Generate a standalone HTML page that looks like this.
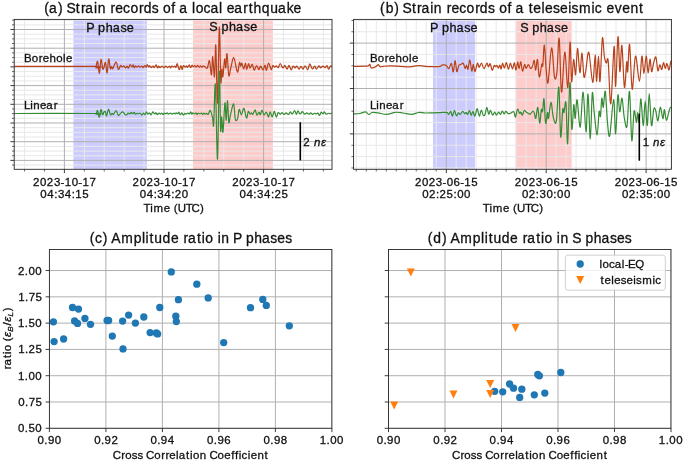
<!DOCTYPE html>
<html><head><meta charset="utf-8"><style>
html,body{margin:0;padding:0;background:#fff;width:685px;height:462px;overflow:hidden;}
svg{display:block;font-family:"Liberation Sans", sans-serif;will-change:transform;}
</style></head><body>
<svg width="685" height="462" viewBox="0 0 685 462" font-family='"Liberation Sans", sans-serif'><defs>
<clipPath id="ca"><rect x="14.2" y="19.4" width="317.8" height="149.9"/></clipPath>
<clipPath id="cb"><rect x="353.6" y="19.4" width="317.8" height="149.9"/></clipPath>
<clipPath id="cc"><rect x="49.4" y="249.5" width="282.5" height="178.8"/></clipPath>
<clipPath id="cd"><rect x="388.5" y="249.5" width="282.5" height="178.8"/></clipPath>
</defs>
<rect x="0" y="0" width="685" height="462" fill="#ffffff"/>
<g clip-path="url(#ca)">
<rect x="73.4" y="19.4" width="73.5" height="149.9" fill="#ccccff"/>
<rect x="193" y="19.4" width="79.9" height="149.9" fill="#ffcccc"/>
<line x1="14.2" y1="20.15" x2="332" y2="20.15" stroke="#e8e8e8" stroke-width="1"/>
<line x1="14.2" y1="24.82" x2="332" y2="24.82" stroke="#e8e8e8" stroke-width="1"/>
<line x1="14.2" y1="34.17" x2="332" y2="34.17" stroke="#e8e8e8" stroke-width="1"/>
<line x1="14.2" y1="38.85" x2="332" y2="38.85" stroke="#e8e8e8" stroke-width="1"/>
<line x1="14.2" y1="43.52" x2="332" y2="43.52" stroke="#e8e8e8" stroke-width="1"/>
<line x1="14.2" y1="52.88" x2="332" y2="52.88" stroke="#e8e8e8" stroke-width="1"/>
<line x1="14.2" y1="57.55" x2="332" y2="57.55" stroke="#e8e8e8" stroke-width="1"/>
<line x1="14.2" y1="62.23" x2="332" y2="62.23" stroke="#e8e8e8" stroke-width="1"/>
<line x1="14.2" y1="71.57" x2="332" y2="71.57" stroke="#e8e8e8" stroke-width="1"/>
<line x1="14.2" y1="76.25" x2="332" y2="76.25" stroke="#e8e8e8" stroke-width="1"/>
<line x1="14.2" y1="80.92" x2="332" y2="80.92" stroke="#e8e8e8" stroke-width="1"/>
<line x1="14.2" y1="90.28" x2="332" y2="90.28" stroke="#e8e8e8" stroke-width="1"/>
<line x1="14.2" y1="94.95" x2="332" y2="94.95" stroke="#e8e8e8" stroke-width="1"/>
<line x1="14.2" y1="99.62" x2="332" y2="99.62" stroke="#e8e8e8" stroke-width="1"/>
<line x1="14.2" y1="108.97" x2="332" y2="108.97" stroke="#e8e8e8" stroke-width="1"/>
<line x1="14.2" y1="113.65" x2="332" y2="113.65" stroke="#e8e8e8" stroke-width="1"/>
<line x1="14.2" y1="118.33" x2="332" y2="118.33" stroke="#e8e8e8" stroke-width="1"/>
<line x1="14.2" y1="127.67" x2="332" y2="127.67" stroke="#e8e8e8" stroke-width="1"/>
<line x1="14.2" y1="132.35" x2="332" y2="132.35" stroke="#e8e8e8" stroke-width="1"/>
<line x1="14.2" y1="137.02" x2="332" y2="137.02" stroke="#e8e8e8" stroke-width="1"/>
<line x1="14.2" y1="146.38" x2="332" y2="146.38" stroke="#e8e8e8" stroke-width="1"/>
<line x1="14.2" y1="151.05" x2="332" y2="151.05" stroke="#e8e8e8" stroke-width="1"/>
<line x1="14.2" y1="155.72" x2="332" y2="155.72" stroke="#e8e8e8" stroke-width="1"/>
<line x1="14.2" y1="165.07" x2="332" y2="165.07" stroke="#e8e8e8" stroke-width="1"/>
<line x1="24.56" y1="19.4" x2="24.56" y2="169.3" stroke="#e8e8e8" stroke-width="1"/>
<line x1="44.48" y1="19.4" x2="44.48" y2="169.3" stroke="#e8e8e8" stroke-width="1"/>
<line x1="84.32" y1="19.4" x2="84.32" y2="169.3" stroke="#e8e8e8" stroke-width="1"/>
<line x1="104.24" y1="19.4" x2="104.24" y2="169.3" stroke="#e8e8e8" stroke-width="1"/>
<line x1="124.16" y1="19.4" x2="124.16" y2="169.3" stroke="#e8e8e8" stroke-width="1"/>
<line x1="144.08" y1="19.4" x2="144.08" y2="169.3" stroke="#e8e8e8" stroke-width="1"/>
<line x1="183.92" y1="19.4" x2="183.92" y2="169.3" stroke="#e8e8e8" stroke-width="1"/>
<line x1="203.84" y1="19.4" x2="203.84" y2="169.3" stroke="#e8e8e8" stroke-width="1"/>
<line x1="223.76" y1="19.4" x2="223.76" y2="169.3" stroke="#e8e8e8" stroke-width="1"/>
<line x1="243.68" y1="19.4" x2="243.68" y2="169.3" stroke="#e8e8e8" stroke-width="1"/>
<line x1="283.52" y1="19.4" x2="283.52" y2="169.3" stroke="#e8e8e8" stroke-width="1"/>
<line x1="303.44" y1="19.4" x2="303.44" y2="169.3" stroke="#e8e8e8" stroke-width="1"/>
<line x1="323.36" y1="19.4" x2="323.36" y2="169.3" stroke="#e8e8e8" stroke-width="1"/>
<line x1="14.2" y1="29.5" x2="332" y2="29.5" stroke="#b0b0b0" stroke-width="1"/>
<line x1="14.2" y1="48.2" x2="332" y2="48.2" stroke="#b0b0b0" stroke-width="1"/>
<line x1="14.2" y1="66.9" x2="332" y2="66.9" stroke="#b0b0b0" stroke-width="1"/>
<line x1="14.2" y1="85.6" x2="332" y2="85.6" stroke="#b0b0b0" stroke-width="1"/>
<line x1="14.2" y1="104.3" x2="332" y2="104.3" stroke="#b0b0b0" stroke-width="1"/>
<line x1="14.2" y1="123" x2="332" y2="123" stroke="#b0b0b0" stroke-width="1"/>
<line x1="14.2" y1="141.7" x2="332" y2="141.7" stroke="#b0b0b0" stroke-width="1"/>
<line x1="14.2" y1="160.4" x2="332" y2="160.4" stroke="#b0b0b0" stroke-width="1"/>
<line x1="64.4" y1="19.4" x2="64.4" y2="169.3" stroke="#b0b0b0" stroke-width="1"/>
<line x1="164" y1="19.4" x2="164" y2="169.3" stroke="#b0b0b0" stroke-width="1"/>
<line x1="263.6" y1="19.4" x2="263.6" y2="169.3" stroke="#b0b0b0" stroke-width="1"/>
<path fill="none" stroke="#b9411a" stroke-width="1.2" stroke-linejoin="round" d="M14.2,66.4C27.6,66.4 81,66.2 94.6,66.4C108.2,66.6 95.3,68.43 95.8,67.6C96.3,66.77 97,60.45 97.6,61.4C98.2,62.35 98.83,73.62 99.4,73.3C99.97,72.98 100.45,60.28 101,59.5C101.55,58.72 102.23,67.2 102.7,68.6C103.17,70 103.33,68.93 103.8,67.9C104.27,66.87 104.95,61.57 105.5,62.4C106.05,63.23 106.57,73.47 107.1,72.9C107.63,72.33 108.17,59.72 108.7,59C109.23,58.28 109.85,67.37 110.3,68.6C110.75,69.83 111.02,66.37 111.4,66.4C111.78,66.43 112.15,68.95 112.6,68.8C113.05,68.65 113.48,66.62 114.1,65.5C114.72,64.38 115.58,61.47 116.3,62.1C117.02,62.73 117.68,68.73 118.4,69.3C119.12,69.87 120,65.88 120.6,65.5C121.2,65.12 121.45,66.95 122,67C122.55,67.06 123.31,65.67 123.88,65.83C124.46,66 124.93,67.92 125.46,67.97C125.99,68.02 126.59,66.08 127.08,66.12C127.57,66.15 127.9,68.45 128.4,68.18C128.9,67.91 129.48,64.69 130.07,64.5C130.67,64.31 131.47,66.97 131.99,67.02C132.51,67.08 132.8,64.73 133.18,64.85C133.57,64.97 133.92,67.56 134.29,67.74C134.65,67.91 134.88,66.01 135.37,65.9C135.85,65.78 136.62,67.03 137.17,67.03C137.72,67.03 138.21,65.85 138.67,65.89C139.14,65.93 139.46,67.24 139.97,67.26C140.49,67.27 141.27,65.93 141.78,65.98C142.29,66.04 142.54,67.64 143.04,67.59C143.54,67.53 144.25,65.72 144.78,65.65C145.3,65.58 145.77,67.32 146.17,67.15C146.58,66.98 146.8,64.68 147.22,64.64C147.64,64.59 148.27,66.68 148.7,66.86C149.13,67.04 149.41,65.55 149.81,65.7C150.21,65.85 150.57,67.67 151.11,67.74C151.64,67.81 152.49,66.15 153.02,66.12C153.56,66.09 153.79,67.74 154.3,67.54C154.8,67.34 155.53,64.84 156.06,64.92C156.6,64.99 157.08,67.79 157.52,67.99C157.95,68.19 158.25,66.18 158.68,66.12C159.12,66.07 159.55,67.69 160.11,67.67C160.67,67.65 161.41,66 162.04,66.01C162.66,66.02 163.27,67.72 163.88,67.74C164.49,67.76 165.07,66.16 165.7,66.14C166.33,66.12 167.03,67.65 167.64,67.63C168.26,67.61 168.91,65.99 169.39,66.03C169.86,66.06 170.11,67.84 170.5,67.84C170.9,67.83 171.32,66.14 171.77,65.98C172.23,65.82 172.73,66.86 173.23,66.88C173.73,66.9 174.34,66.03 174.8,66.1C175.26,66.17 175.57,67.69 175.99,67.29C176.4,66.9 176.73,63.33 177.26,63.73C177.79,64.14 178.53,69.42 179.16,69.72C179.78,70.01 180.5,65.51 181,65.52C181.5,65.52 181.74,69.7 182.14,69.73C182.55,69.76 182.9,66.14 183.41,65.71C183.92,65.28 184.7,67.09 185.2,67.13C185.7,67.18 186,65.92 186.41,65.96C186.82,66.01 187.19,67.6 187.66,67.4C188.14,67.2 188.79,64.73 189.27,64.76C189.74,64.8 190.05,67.55 190.5,67.62C190.95,67.7 191.48,65.39 191.95,65.23C192.42,65.07 192.87,66.61 193.33,66.68C193.79,66.74 194.21,65.57 194.71,65.61C195.21,65.66 195.88,67.01 196.35,66.95C196.82,66.9 197.02,65.27 197.53,65.31C198.03,65.35 198.91,67.1 199.4,67.19C199.88,67.29 200,65.89 200.46,65.9C200.93,65.9 201.7,67.25 202.17,67.23C202.64,67.2 202.79,65.76 203.29,65.73C203.79,65.7 204.46,66.69 205.15,67.05C205.83,67.41 206.67,68.96 207.4,67.9C208.13,66.84 208.82,59.52 209.5,60.7C210.18,61.88 210.97,75.7 211.5,75C212.03,74.3 212.2,56.2 212.7,56.5C213.2,56.8 213.98,78.68 214.5,76.8C215.02,74.92 215.3,40.83 215.8,45.2C216.3,49.57 216.92,106 217.5,103C218.08,100 218.75,30.78 219.3,27.2C219.85,23.62 220.37,74.53 220.8,81.5C221.23,88.47 221.55,69.78 221.9,69C222.25,68.22 222.45,78.48 222.9,76.8C223.35,75.12 224.12,60.38 224.6,58.9C225.08,57.42 225.4,68.78 225.8,67.9C226.2,67.02 226.5,52.32 227,53.6C227.5,54.88 228.2,73.03 228.8,75.6C229.4,78.17 229.77,71.98 230.6,69C231.43,66.02 232.67,57.2 233.8,57.7C234.93,58.2 236.45,71.2 237.4,72C238.35,72.8 238.95,63.48 239.5,62.5C240.05,61.52 240.3,66 240.7,66.1C241.1,66.2 241.4,62.62 241.9,63.1C242.4,63.58 243.1,69 243.7,69C244.3,69 245,63 245.5,63.1C246,63.2 246.2,69.5 246.7,69.6C247.2,69.7 247.95,63.96 248.5,63.7C249.05,63.44 249.37,67.94 250,68.04C250.63,68.14 251.6,63.93 252.31,64.3C253.02,64.67 253.54,70.07 254.25,70.27C254.97,70.48 255.82,65.62 256.59,65.52C257.37,65.42 258.23,69.58 258.9,69.69C259.56,69.8 259.87,66.13 260.57,66.19C261.27,66.24 262.34,70.18 263.07,70.01C263.8,69.84 264.4,65.13 264.97,65.18C265.53,65.23 265.86,70.67 266.46,70.31C267.06,69.95 267.78,63.14 268.57,63.01C269.37,62.89 270.52,69.15 271.23,69.56C271.95,69.98 272.32,65.89 272.87,65.49C273.43,65.09 273.99,67.14 274.55,67.19C275.11,67.23 275.62,65.69 276.24,65.78C276.85,65.87 277.57,68.09 278.23,67.71C278.89,67.33 279.41,63.46 280.19,63.49C280.96,63.53 282.11,67.6 282.88,67.93C283.64,68.25 284.09,65.24 284.8,65.45C285.5,65.66 286.41,69.2 287.11,69.18C287.82,69.16 288.37,65.19 289.04,65.32C289.71,65.44 290.46,69.82 291.14,69.94C291.83,70.06 292.48,66.36 293.15,66.04C293.82,65.72 294.56,68 295.16,68.01C295.76,68.02 296.1,65.91 296.76,66.1C297.42,66.28 298.4,69.12 299.11,69.15C299.82,69.17 300.35,66.26 301.01,66.25C301.67,66.24 302.37,69.17 303.06,69.09C303.75,69.01 304.34,65.67 305.13,65.78C305.92,65.9 307.04,70.12 307.81,69.8C308.57,69.48 308.98,64.01 309.73,63.86C310.49,63.71 311.51,68.54 312.35,68.91C313.2,69.29 314.14,66.04 314.8,66.1C315.45,66.15 315.58,69.29 316.28,69.25C316.97,69.21 318.28,66.09 318.99,65.85C319.69,65.62 319.82,67.77 320.49,67.82C321.16,67.87 322.23,66.18 323,66.15C323.78,66.12 324.48,67.72 325.14,67.62C325.79,67.52 326.36,65.27 326.94,65.54C327.52,65.81 328.03,69.19 328.61,69.25C329.2,69.32 329.74,66.27 330.43,65.93C331.13,65.58 332.39,66.98 332.78,67.19"/>
<path fill="none" stroke="#358c35" stroke-width="1.2" stroke-linejoin="round" d="M14.2,113.5C27.62,113.5 81.07,113.35 94.7,113.5C108.33,113.65 95.53,114.9 96,114.4C96.47,113.9 96.95,110.03 97.5,110.5C98.05,110.97 98.73,117.37 99.3,117.2C99.87,117.03 100.33,109.92 100.9,109.5C101.47,109.08 102.2,114.25 102.7,114.7C103.2,115.15 103.47,112.7 103.9,112.2C104.33,111.7 104.85,111.08 105.3,111.7C105.75,112.32 106.08,116.32 106.6,115.9C107.12,115.48 107.77,109.4 108.4,109.2C109.03,109 109.78,114 110.4,114.7C111.02,115.4 111.57,113.45 112.1,113.4C112.63,113.35 112.93,114.88 113.6,114.4C114.27,113.92 115.32,110.33 116.1,110.5C116.88,110.67 117.57,114.92 118.3,115.4C119.03,115.88 119.75,113.98 120.5,113.4C121.25,112.82 122.08,111.77 122.8,111.9C123.52,112.03 124.18,113.69 124.8,114.2C125.42,114.71 125.96,115.16 126.5,114.99C127.04,114.82 127.52,113.34 128.07,113.18C128.61,113.01 129.25,114.11 129.77,113.99C130.3,113.87 130.76,112.5 131.23,112.46C131.69,112.41 132.06,113.76 132.56,113.74C133.07,113.71 133.81,112.24 134.27,112.31C134.73,112.37 134.85,113.96 135.32,114.13C135.79,114.29 136.59,113.35 137.1,113.29C137.61,113.22 137.88,113.77 138.4,113.76C138.92,113.75 139.65,112.98 140.24,113.21C140.84,113.44 141.45,115.16 141.97,115.14C142.49,115.12 142.9,113.2 143.38,113.1C143.85,113.01 144.28,114.76 144.81,114.56C145.35,114.37 146.09,112.01 146.58,111.95C147.08,111.9 147.3,114.05 147.78,114.22C148.26,114.39 148.9,112.86 149.45,112.97C150,113.07 150.54,115.03 151.1,114.85C151.66,114.67 152.25,112.02 152.84,111.86C153.42,111.7 154.09,113.76 154.62,113.91C155.15,114.05 155.57,112.61 156.03,112.72C156.49,112.84 156.88,114.55 157.38,114.6C157.88,114.65 158.51,113.09 159.02,113.01C159.53,112.94 160.02,114.14 160.46,114.13C160.91,114.13 161.21,112.89 161.67,112.98C162.13,113.07 162.75,114.63 163.23,114.65C163.71,114.67 164.07,113.25 164.55,113.1C165.02,112.95 165.65,113.8 166.08,113.76C166.52,113.71 166.75,112.79 167.15,112.85C167.56,112.91 167.97,114.05 168.49,114.09C169.02,114.13 169.68,113.08 170.29,113.07C170.9,113.06 171.56,114.04 172.17,114.04C172.78,114.04 173.45,113.13 173.95,113.09C174.45,113.04 174.8,113.83 175.18,113.79C175.56,113.75 175.84,112.86 176.26,112.85C176.67,112.84 177.25,113.84 177.69,113.73C178.14,113.61 178.53,112.01 178.93,112.19C179.33,112.36 179.6,114.65 180.09,114.76C180.59,114.87 181.35,112.8 181.89,112.87C182.43,112.94 182.84,115.09 183.32,115.16C183.81,115.23 184.35,113.46 184.8,113.29C185.24,113.12 185.5,114.2 185.99,114.16C186.49,114.12 187.23,113.1 187.78,113.06C188.33,113.01 188.8,114.06 189.3,113.88C189.8,113.69 190.36,111.9 190.78,111.96C191.19,112.02 191.46,114.09 191.8,114.25C192.14,114.41 192.37,113 192.84,112.93C193.3,112.86 194.07,113.87 194.59,113.85C195.11,113.82 195.54,112.65 195.96,112.78C196.38,112.9 196.73,114.53 197.09,114.6C197.45,114.68 197.66,113.36 198.13,113.22C198.6,113.08 199.36,113.8 199.9,113.77C200.44,113.73 200.93,112.87 201.38,113.02C201.83,113.16 202.16,114.67 202.59,114.66C203.01,114.65 203.53,113.06 203.93,112.98C204.33,112.91 204.53,114.15 204.99,114.21C205.44,114.26 206.14,113.28 206.68,113.3C207.21,113.32 207.58,114.78 208.2,114.3C208.82,113.82 209.67,109.78 210.4,110.4C211.13,111.02 212.05,115.65 212.6,118C213.15,120.35 213.23,130.08 213.7,124.5C214.17,118.92 214.77,78.73 215.4,84.5C216.03,90.27 216.85,161.27 217.5,159.1C218.15,156.93 218.78,76.37 219.3,71.5C219.82,66.63 220.2,122.33 220.6,129.9C221,137.47 221.3,116.53 221.7,116.9C222.1,117.27 222.47,134.43 223,132.1C223.53,129.77 224.37,104.88 224.9,102.9C225.43,100.92 225.77,120.57 226.2,120.2C226.63,119.83 227.07,100.35 227.5,100.7C227.93,101.05 228.3,119.95 228.8,122.3C229.3,124.65 229.7,117.85 230.5,114.8C231.3,111.75 232.8,103.28 233.6,104C234.4,104.72 234.65,116.58 235.3,119.1C235.95,121.62 236.85,120.72 237.5,119.1C238.15,117.48 238.55,110.12 239.2,109.4C239.85,108.68 240.62,114.98 241.4,114.8C242.18,114.62 243.05,107.77 243.9,108.3C244.75,108.83 245.77,117.47 246.5,118C247.23,118.53 247.72,112.15 248.3,111.5C248.88,110.85 249.49,113.87 250,114.1C250.51,114.32 250.89,112.8 251.36,112.85C251.83,112.89 252.19,114.84 252.82,114.36C253.46,113.87 254.5,109.79 255.17,109.92C255.84,110.04 256.23,114.72 256.86,115.09C257.5,115.47 258.39,112.26 258.97,112.19C259.56,112.12 259.85,115.02 260.36,114.66C260.87,114.31 261.43,110.03 262.04,110.07C262.66,110.11 263.3,114.54 264.04,114.9C264.77,115.25 265.72,111.84 266.46,112.2C267.21,112.56 267.87,117.13 268.49,117.08C269.11,117.03 269.55,111.91 270.18,111.88C270.8,111.85 271.56,117.01 272.25,116.9C272.94,116.78 273.67,111.17 274.34,111.19C275.01,111.21 275.64,116.81 276.28,117.04C276.92,117.26 277.52,113.02 278.18,112.56C278.85,112.11 279.63,114.28 280.27,114.31C280.91,114.33 281.4,112.68 282.02,112.71C282.65,112.73 283.35,114.42 284.03,114.47C284.72,114.51 285.37,112.97 286.13,112.97C286.89,112.97 287.89,114.65 288.6,114.46C289.31,114.28 289.77,111.95 290.39,111.88C291,111.81 291.59,114.27 292.3,114.04C293.01,113.81 293.97,110.45 294.65,110.49C295.33,110.54 295.83,114.24 296.38,114.31C296.92,114.38 297.3,110.97 297.93,110.92C298.56,110.87 299.44,113.89 300.16,114.01C300.89,114.13 301.55,111.63 302.28,111.64C303.02,111.64 303.8,113.84 304.56,114.06C305.32,114.27 306.14,112.89 306.85,112.92C307.57,112.95 308.21,114.24 308.85,114.23C309.49,114.21 310.12,112.83 310.72,112.84C311.32,112.85 311.83,114.21 312.45,114.28C313.08,114.35 313.82,113.32 314.48,113.26C315.13,113.21 315.8,114 316.38,113.95C316.95,113.91 317.37,112.74 317.9,112.98C318.43,113.23 318.98,115.57 319.54,115.43C320.1,115.28 320.71,112.4 321.27,112.14C321.83,111.87 322.35,113.88 322.89,113.85C323.43,113.82 324,111.89 324.54,111.95C325.07,112.01 325.44,114 326.1,114.22C326.76,114.44 327.8,113.33 328.49,113.25C329.18,113.17 329.69,113.79 330.25,113.75C330.8,113.71 331.18,112.97 331.81,113.02C332.43,113.07 333.63,113.87 333.99,114.04"/>
</g>
<line x1="300.3" y1="122.2" x2="300.3" y2="160.4" stroke="#000000" stroke-width="1.6"/>
<text x="86.31 94.1 98.12 105.67 112.69 120.38 126.79" y="32.3" font-size="12.62" fill="#111111" stroke="#111111" stroke-width="0.3" xml:space="preserve">P phase</text>
<text x="209.37 217.48 221.51 229.05 236.07 243.77 250.17" y="31.4" font-size="12.62" fill="#111111" stroke="#111111" stroke-width="0.3" xml:space="preserve">S phase</text>
<text x="24.02 31.73 38.78 42.64 49.42 56.19 62.94 65.9" y="61.8" font-size="11.47" fill="#111111" stroke="#111111" stroke-width="0.3" xml:space="preserve">Borehole</text>
<text x="23.9 30.13 33.19 39.98 46.23 53.69" y="108.7" font-size="11.47" fill="#111111" stroke="#111111" stroke-width="0.3" xml:space="preserve">Linear</text>
<text x="303.33" y="146" font-size="11.47" fill="#111111" stroke="#111111" stroke-width="0.3" xml:space="preserve">2</text>
<text x="313.96 320.89" y="146" font-size="11.47" fill="#111111" stroke="#111111" stroke-width="0.3" font-style="italic" xml:space="preserve">nε</text>
<rect x="14.2" y="19.4" width="317.8" height="149.9" fill="none" stroke="#262626" stroke-width="0.9"/>
<line x1="10.4" y1="29.5" x2="14.2" y2="29.5" stroke="#262626" stroke-width="0.9"/>
<line x1="10.4" y1="48.2" x2="14.2" y2="48.2" stroke="#262626" stroke-width="0.9"/>
<line x1="10.4" y1="66.9" x2="14.2" y2="66.9" stroke="#262626" stroke-width="0.9"/>
<line x1="10.4" y1="85.6" x2="14.2" y2="85.6" stroke="#262626" stroke-width="0.9"/>
<line x1="10.4" y1="104.3" x2="14.2" y2="104.3" stroke="#262626" stroke-width="0.9"/>
<line x1="10.4" y1="123" x2="14.2" y2="123" stroke="#262626" stroke-width="0.9"/>
<line x1="10.4" y1="141.7" x2="14.2" y2="141.7" stroke="#262626" stroke-width="0.9"/>
<line x1="10.4" y1="160.4" x2="14.2" y2="160.4" stroke="#262626" stroke-width="0.9"/>
<line x1="12" y1="20.15" x2="14.2" y2="20.15" stroke="#262626" stroke-width="0.7"/>
<line x1="12" y1="24.82" x2="14.2" y2="24.82" stroke="#262626" stroke-width="0.7"/>
<line x1="12" y1="34.17" x2="14.2" y2="34.17" stroke="#262626" stroke-width="0.7"/>
<line x1="12" y1="38.85" x2="14.2" y2="38.85" stroke="#262626" stroke-width="0.7"/>
<line x1="12" y1="43.52" x2="14.2" y2="43.52" stroke="#262626" stroke-width="0.7"/>
<line x1="12" y1="52.88" x2="14.2" y2="52.88" stroke="#262626" stroke-width="0.7"/>
<line x1="12" y1="57.55" x2="14.2" y2="57.55" stroke="#262626" stroke-width="0.7"/>
<line x1="12" y1="62.23" x2="14.2" y2="62.23" stroke="#262626" stroke-width="0.7"/>
<line x1="12" y1="71.57" x2="14.2" y2="71.57" stroke="#262626" stroke-width="0.7"/>
<line x1="12" y1="76.25" x2="14.2" y2="76.25" stroke="#262626" stroke-width="0.7"/>
<line x1="12" y1="80.92" x2="14.2" y2="80.92" stroke="#262626" stroke-width="0.7"/>
<line x1="12" y1="90.28" x2="14.2" y2="90.28" stroke="#262626" stroke-width="0.7"/>
<line x1="12" y1="94.95" x2="14.2" y2="94.95" stroke="#262626" stroke-width="0.7"/>
<line x1="12" y1="99.62" x2="14.2" y2="99.62" stroke="#262626" stroke-width="0.7"/>
<line x1="12" y1="108.97" x2="14.2" y2="108.97" stroke="#262626" stroke-width="0.7"/>
<line x1="12" y1="113.65" x2="14.2" y2="113.65" stroke="#262626" stroke-width="0.7"/>
<line x1="12" y1="118.33" x2="14.2" y2="118.33" stroke="#262626" stroke-width="0.7"/>
<line x1="12" y1="127.67" x2="14.2" y2="127.67" stroke="#262626" stroke-width="0.7"/>
<line x1="12" y1="132.35" x2="14.2" y2="132.35" stroke="#262626" stroke-width="0.7"/>
<line x1="12" y1="137.02" x2="14.2" y2="137.02" stroke="#262626" stroke-width="0.7"/>
<line x1="12" y1="146.38" x2="14.2" y2="146.38" stroke="#262626" stroke-width="0.7"/>
<line x1="12" y1="151.05" x2="14.2" y2="151.05" stroke="#262626" stroke-width="0.7"/>
<line x1="12" y1="155.72" x2="14.2" y2="155.72" stroke="#262626" stroke-width="0.7"/>
<line x1="12" y1="165.07" x2="14.2" y2="165.07" stroke="#262626" stroke-width="0.7"/>
<line x1="64.4" y1="169.3" x2="64.4" y2="173.1" stroke="#262626" stroke-width="0.9"/>
<line x1="164" y1="169.3" x2="164" y2="173.1" stroke="#262626" stroke-width="0.9"/>
<line x1="263.6" y1="169.3" x2="263.6" y2="173.1" stroke="#262626" stroke-width="0.9"/>
<line x1="24.56" y1="169.3" x2="24.56" y2="171.5" stroke="#262626" stroke-width="0.7"/>
<line x1="44.48" y1="169.3" x2="44.48" y2="171.5" stroke="#262626" stroke-width="0.7"/>
<line x1="84.32" y1="169.3" x2="84.32" y2="171.5" stroke="#262626" stroke-width="0.7"/>
<line x1="104.24" y1="169.3" x2="104.24" y2="171.5" stroke="#262626" stroke-width="0.7"/>
<line x1="124.16" y1="169.3" x2="124.16" y2="171.5" stroke="#262626" stroke-width="0.7"/>
<line x1="144.08" y1="169.3" x2="144.08" y2="171.5" stroke="#262626" stroke-width="0.7"/>
<line x1="183.92" y1="169.3" x2="183.92" y2="171.5" stroke="#262626" stroke-width="0.7"/>
<line x1="203.84" y1="169.3" x2="203.84" y2="171.5" stroke="#262626" stroke-width="0.7"/>
<line x1="223.76" y1="169.3" x2="223.76" y2="171.5" stroke="#262626" stroke-width="0.7"/>
<line x1="243.68" y1="169.3" x2="243.68" y2="171.5" stroke="#262626" stroke-width="0.7"/>
<line x1="283.52" y1="169.3" x2="283.52" y2="171.5" stroke="#262626" stroke-width="0.7"/>
<line x1="303.44" y1="169.3" x2="303.44" y2="171.5" stroke="#262626" stroke-width="0.7"/>
<line x1="323.36" y1="169.3" x2="323.36" y2="171.5" stroke="#262626" stroke-width="0.7"/>
<text x="32.99 40.05 46.83 53.9 60.59 64.67 71.65 78.36 82.44 89.39" y="185.8" font-size="11.47" fill="#111111" stroke="#111111" stroke-width="0.3" xml:space="preserve">2023-10-17</text>
<text x="40.36 47.28 54.17 57.88 64.78 71.68 75.31 82.24" y="197.9" font-size="11.47" fill="#111111" stroke="#111111" stroke-width="0.3" xml:space="preserve">04:34:15</text>
<text x="132.59 139.65 146.43 153.5 160.19 164.27 171.25 177.96 182.04 188.99" y="185.8" font-size="11.47" fill="#111111" stroke="#111111" stroke-width="0.3" xml:space="preserve">2023-10-17</text>
<text x="139.85 146.77 153.66 157.37 164.27 171.16 174.71 181.77" y="197.9" font-size="11.47" fill="#111111" stroke="#111111" stroke-width="0.3" xml:space="preserve">04:34:20</text>
<text x="232.19 239.25 246.03 253.1 259.79 263.87 270.85 277.56 281.64 288.59" y="185.8" font-size="11.47" fill="#111111" stroke="#111111" stroke-width="0.3" xml:space="preserve">2023-10-17</text>
<text x="239.56 246.48 253.37 257.08 263.98 270.88 274.42 281.44" y="197.9" font-size="11.47" fill="#111111" stroke="#111111" stroke-width="0.3" xml:space="preserve">04:34:25</text>
<text x="143.56 150.25 153.58 163.8 170.45 173.69 177.85 185.79 191.58 200.09" y="212.3" font-size="11.47" fill="#111111" stroke="#111111" stroke-width="0.3" xml:space="preserve">Time (UTC)</text>
<text x="44.23 49.12 58.09 62.77 66.4 75.73 80.9 85.33 93.99 97.68 105.82 110.48 115.19 123.04 130.44 138.94 143.68 151.83 158.78 162.96 171.37 175.6 179.28 187.82 192.11 195.64 203.49 210.39 219.05 222.57 226.79 234.33 243.34 248.71 253.56 261.79 270.17 277.88 286.69 293.57" y="12.6" font-size="13.88" fill="#111111" stroke="#111111" stroke-width="0.3" xml:space="preserve">(a) Strain records of a local earthquake</text>
<g clip-path="url(#cb)">
<rect x="433" y="19.4" width="42" height="149.9" fill="#ccccff"/>
<rect x="515.5" y="19.4" width="56.2" height="149.9" fill="#ffcccc"/>
<line x1="353.6" y1="20.4" x2="671.4" y2="20.4" stroke="#e8e8e8" stroke-width="1"/>
<line x1="353.6" y1="31.75" x2="671.4" y2="31.75" stroke="#e8e8e8" stroke-width="1"/>
<line x1="353.6" y1="54.45" x2="671.4" y2="54.45" stroke="#e8e8e8" stroke-width="1"/>
<line x1="353.6" y1="65.8" x2="671.4" y2="65.8" stroke="#e8e8e8" stroke-width="1"/>
<line x1="353.6" y1="77.15" x2="671.4" y2="77.15" stroke="#e8e8e8" stroke-width="1"/>
<line x1="353.6" y1="99.85" x2="671.4" y2="99.85" stroke="#e8e8e8" stroke-width="1"/>
<line x1="353.6" y1="111.2" x2="671.4" y2="111.2" stroke="#e8e8e8" stroke-width="1"/>
<line x1="353.6" y1="122.55" x2="671.4" y2="122.55" stroke="#e8e8e8" stroke-width="1"/>
<line x1="353.6" y1="145.25" x2="671.4" y2="145.25" stroke="#e8e8e8" stroke-width="1"/>
<line x1="353.6" y1="156.6" x2="671.4" y2="156.6" stroke="#e8e8e8" stroke-width="1"/>
<line x1="353.6" y1="167.95" x2="671.4" y2="167.95" stroke="#e8e8e8" stroke-width="1"/>
<line x1="356.3" y1="19.4" x2="356.3" y2="169.3" stroke="#e8e8e8" stroke-width="1"/>
<line x1="366.29" y1="19.4" x2="366.29" y2="169.3" stroke="#e8e8e8" stroke-width="1"/>
<line x1="376.28" y1="19.4" x2="376.28" y2="169.3" stroke="#e8e8e8" stroke-width="1"/>
<line x1="386.27" y1="19.4" x2="386.27" y2="169.3" stroke="#e8e8e8" stroke-width="1"/>
<line x1="396.26" y1="19.4" x2="396.26" y2="169.3" stroke="#e8e8e8" stroke-width="1"/>
<line x1="406.25" y1="19.4" x2="406.25" y2="169.3" stroke="#e8e8e8" stroke-width="1"/>
<line x1="416.24" y1="19.4" x2="416.24" y2="169.3" stroke="#e8e8e8" stroke-width="1"/>
<line x1="426.23" y1="19.4" x2="426.23" y2="169.3" stroke="#e8e8e8" stroke-width="1"/>
<line x1="436.22" y1="19.4" x2="436.22" y2="169.3" stroke="#e8e8e8" stroke-width="1"/>
<line x1="456.2" y1="19.4" x2="456.2" y2="169.3" stroke="#e8e8e8" stroke-width="1"/>
<line x1="466.19" y1="19.4" x2="466.19" y2="169.3" stroke="#e8e8e8" stroke-width="1"/>
<line x1="476.18" y1="19.4" x2="476.18" y2="169.3" stroke="#e8e8e8" stroke-width="1"/>
<line x1="486.17" y1="19.4" x2="486.17" y2="169.3" stroke="#e8e8e8" stroke-width="1"/>
<line x1="496.16" y1="19.4" x2="496.16" y2="169.3" stroke="#e8e8e8" stroke-width="1"/>
<line x1="506.15" y1="19.4" x2="506.15" y2="169.3" stroke="#e8e8e8" stroke-width="1"/>
<line x1="516.14" y1="19.4" x2="516.14" y2="169.3" stroke="#e8e8e8" stroke-width="1"/>
<line x1="526.13" y1="19.4" x2="526.13" y2="169.3" stroke="#e8e8e8" stroke-width="1"/>
<line x1="536.12" y1="19.4" x2="536.12" y2="169.3" stroke="#e8e8e8" stroke-width="1"/>
<line x1="556.1" y1="19.4" x2="556.1" y2="169.3" stroke="#e8e8e8" stroke-width="1"/>
<line x1="566.09" y1="19.4" x2="566.09" y2="169.3" stroke="#e8e8e8" stroke-width="1"/>
<line x1="576.08" y1="19.4" x2="576.08" y2="169.3" stroke="#e8e8e8" stroke-width="1"/>
<line x1="586.07" y1="19.4" x2="586.07" y2="169.3" stroke="#e8e8e8" stroke-width="1"/>
<line x1="596.06" y1="19.4" x2="596.06" y2="169.3" stroke="#e8e8e8" stroke-width="1"/>
<line x1="606.05" y1="19.4" x2="606.05" y2="169.3" stroke="#e8e8e8" stroke-width="1"/>
<line x1="616.04" y1="19.4" x2="616.04" y2="169.3" stroke="#e8e8e8" stroke-width="1"/>
<line x1="626.03" y1="19.4" x2="626.03" y2="169.3" stroke="#e8e8e8" stroke-width="1"/>
<line x1="636.02" y1="19.4" x2="636.02" y2="169.3" stroke="#e8e8e8" stroke-width="1"/>
<line x1="656" y1="19.4" x2="656" y2="169.3" stroke="#e8e8e8" stroke-width="1"/>
<line x1="665.99" y1="19.4" x2="665.99" y2="169.3" stroke="#e8e8e8" stroke-width="1"/>
<line x1="353.6" y1="43.1" x2="671.4" y2="43.1" stroke="#b0b0b0" stroke-width="1"/>
<line x1="353.6" y1="88.5" x2="671.4" y2="88.5" stroke="#b0b0b0" stroke-width="1"/>
<line x1="353.6" y1="133.9" x2="671.4" y2="133.9" stroke="#b0b0b0" stroke-width="1"/>
<line x1="446.3" y1="19.4" x2="446.3" y2="169.3" stroke="#b0b0b0" stroke-width="1"/>
<line x1="546.2" y1="19.4" x2="546.2" y2="169.3" stroke="#b0b0b0" stroke-width="1"/>
<line x1="646.1" y1="19.4" x2="646.1" y2="169.3" stroke="#b0b0b0" stroke-width="1"/>
<path fill="none" stroke="#b9411a" stroke-width="1.2" stroke-linejoin="round" d="M353.6,66.3C355.67,66.28 363.52,66.28 366,66.2C368.48,66.12 367.87,66.12 368.5,65.8C369.13,65.48 369.38,64 369.8,64.3C370.22,64.6 370.47,67.02 371,67.6C371.53,68.18 372.17,67.98 373,67.8C373.83,67.62 375.08,67.03 376,66.5C376.92,65.97 377.83,64.55 378.5,64.6C379.17,64.65 379.25,66.5 380,66.8C380.75,67.1 381.33,66.57 383,66.4C384.67,66.23 387.17,65.82 390,65.8C392.83,65.78 396.67,66.12 400,66.3C403.33,66.48 407,67.02 410,66.9C413,66.78 415.5,65.7 418,65.6C420.5,65.5 422.5,66.13 425,66.3C427.5,66.47 430.5,66.58 433,66.6C435.5,66.62 438.4,66.68 440,66.4C441.6,66.12 441.53,65.05 442.6,64.9C443.67,64.75 445.37,64.87 446.4,65.5C447.43,66.13 447.97,69.03 448.8,68.7C449.63,68.37 450.65,62.97 451.4,63.5C452.15,64.03 452.68,72.43 453.3,71.9C453.92,71.37 454.52,60.35 455.1,60.3C455.68,60.25 456.2,70.73 456.8,71.6C457.4,72.47 458.15,66.62 458.7,65.5C459.25,64.38 459.57,65.18 460.1,64.9C460.63,64.62 461.35,64.03 461.9,63.8C462.45,63.57 462.87,62.73 463.4,63.5C463.93,64.27 464.57,68.12 465.1,68.4C465.63,68.68 466.12,65.05 466.6,65.2C467.08,65.35 467.47,70.17 468,69.3C468.53,68.43 469.17,59.7 469.8,60C470.43,60.3 471.22,70.38 471.8,71.1C472.38,71.82 472.77,64.22 473.3,64.3C473.83,64.38 474.32,71.78 475,71.6C475.68,71.42 476.7,63.9 477.4,63.2C478.1,62.5 478.52,67.43 479.2,67.4C479.88,67.37 480.72,62.78 481.5,63C482.28,63.22 483,68.67 483.9,68.7C484.8,68.73 486.13,63.48 486.9,63.2C487.67,62.92 487.95,66.92 488.5,67C489.05,67.08 489.58,63.17 490.2,63.7C490.82,64.23 491.53,69.9 492.2,70.2C492.87,70.5 493.62,66.08 494.2,65.5C494.78,64.92 495.25,66.7 495.7,66.7C496.15,66.7 496.45,65.25 496.9,65.5C497.35,65.75 497.9,68.28 498.4,68.2C498.9,68.12 499.45,64.88 499.9,65C500.35,65.12 500.65,69.2 501.1,68.9C501.55,68.6 502.05,63.32 502.6,63.2C503.15,63.08 503.77,68.32 504.4,68.2C505.03,68.08 505.73,62.3 506.4,62.5C507.07,62.7 507.73,69.28 508.4,69.4C509.07,69.52 509.72,63.27 510.4,63.2C511.08,63.13 511.83,69.07 512.5,69C513.17,68.93 513.82,62.62 514.4,62.8C514.98,62.98 515.45,70.22 516,70.1C516.55,69.98 517.18,62.33 517.7,62.1C518.22,61.87 518.58,68.75 519.1,68.7C519.62,68.65 520.23,61.4 520.8,61.8C521.37,62.2 521.87,70.65 522.5,71.1C523.13,71.55 524,64.95 524.6,64.5C525.2,64.05 525.47,68.4 526.1,68.4C526.73,68.4 527.67,64.5 528.4,64.5C529.13,64.5 529.83,68.05 530.5,68.4C531.17,68.75 531.78,67.93 532.4,66.6C533.02,65.27 533.65,59.82 534.2,60.4C534.75,60.98 535.15,70.25 535.7,70.1C536.25,69.95 536.9,58.35 537.5,59.5C538.1,60.65 538.58,76.23 539.3,77C540.02,77.77 541.22,66 541.8,64.1C542.38,62.2 542.38,68.75 542.8,65.6C543.22,62.45 543.72,44.32 544.3,45.2C544.88,46.08 545.67,64.72 546.3,70.9C546.93,77.08 547.22,86.13 548.1,82.3C548.98,78.47 550.53,48.78 551.6,47.9C552.67,47.02 553.62,72.92 554.5,77C555.38,81.08 556.12,78.85 556.9,72.4C557.68,65.95 558.43,35.02 559.2,38.3C559.97,41.58 560.57,89.82 561.5,92.1C562.43,94.38 563.75,52.75 564.8,52C565.85,51.25 566.92,89.25 567.8,87.6C568.68,85.95 569.47,43.12 570.1,42.1C570.73,41.08 571.02,78.6 571.6,81.5C572.18,84.4 572.93,60.63 573.6,59.5C574.27,58.37 574.95,76.55 575.6,74.7C576.25,72.85 576.78,48.73 577.5,48.4C578.22,48.07 579.15,71.9 579.9,72.7C580.65,73.5 581.33,52.55 582,53.2C582.67,53.85 583.27,73.68 583.9,76.6C584.53,79.52 584.98,74.75 585.8,70.7C586.62,66.65 587.65,50.35 588.8,52.3C589.95,54.25 591.63,81.92 592.7,82.4C593.77,82.88 594.57,55.35 595.2,55.2C595.83,55.05 595.95,81.35 596.5,81.5C597.05,81.65 597.92,56.1 598.5,56.1C599.08,56.1 599.35,84.48 600,81.5C600.65,78.52 601.68,42.43 602.4,38.2C603.12,33.97 603.65,51.97 604.3,56.1C604.95,60.23 605.65,62.18 606.3,63C606.95,63.82 607.45,54.2 608.2,61C608.95,67.8 609.82,106.23 610.8,103.8C611.78,101.37 613.3,49.32 614.1,46.4C614.9,43.48 614.95,87.92 615.6,86.3C616.25,84.68 617.28,39.13 618,36.7C618.72,34.27 619.25,70.25 619.9,71.7C620.55,73.15 621.15,42.8 621.9,45.4C622.65,48 623.6,84.53 624.4,87.3C625.2,90.07 626.15,64.6 626.7,62C627.25,59.4 627.22,74.62 627.7,71.7C628.18,68.78 628.85,41.58 629.6,44.5C630.35,47.42 631.22,87.27 632.2,89.2C633.18,91.13 634.3,57.38 635.5,56.1C636.7,54.82 638.33,81.5 639.4,81.5C640.47,81.5 641.15,57.4 641.9,56.1C642.65,54.8 643.18,73.7 643.9,73.7C644.62,73.7 645.5,56.27 646.2,56.1C646.9,55.93 647.47,72.22 648.1,72.7C648.73,73.18 649.42,59.17 650,59C650.58,58.83 651,71.03 651.6,71.7C652.2,72.37 652.88,65.43 653.6,63C654.32,60.57 655.18,55.82 655.9,57.1C656.62,58.38 657.25,69.4 657.9,70.7C658.55,72 659.15,65.1 659.8,64.9C660.45,64.7 661.18,69.9 661.8,69.5C662.42,69.1 662.93,62.67 663.5,62.5C664.07,62.33 664.62,68.33 665.2,68.5C665.78,68.67 666.37,63.25 667,63.5C667.63,63.75 668.33,70.42 669,70C669.67,69.58 670.33,62.17 671,61C671.67,59.83 672.67,62.67 673,63"/>
<path fill="none" stroke="#358c35" stroke-width="1.2" stroke-linejoin="round" d="M353.6,114C354.67,113.92 358.03,113.87 360,113.5C361.97,113.13 363.9,111.63 365.4,111.8C366.9,111.97 367.9,114.38 369,114.5C370.1,114.62 370.5,112.78 372,112.5C373.5,112.22 375.57,112.48 378,112.8C380.43,113.12 383.72,114.48 386.6,114.4C389.48,114.32 392.57,112.53 395.3,112.3C398.03,112.07 400.32,112.65 403,113C405.68,113.35 408.78,114.48 411.4,114.4C414.02,114.32 416.43,112.73 418.7,112.5C420.97,112.27 422.62,112.95 425,113C427.38,113.05 430.5,112.87 433,112.8C435.5,112.73 437.72,112.67 440,112.6C442.28,112.53 445.25,112.1 446.7,112.4C448.15,112.7 448.03,114.57 448.7,114.4C449.37,114.23 450.08,111.12 450.7,111.4C451.32,111.68 451.78,116.27 452.4,116.1C453.02,115.93 453.73,110.45 454.4,110.4C455.07,110.35 455.73,115.4 456.4,115.8C457.07,116.2 457.78,113.03 458.4,112.8C459.02,112.57 459.37,114.63 460.1,114.4C460.83,114.17 462.02,111.5 462.8,111.4C463.58,111.3 464.23,113.63 464.8,113.8C465.37,113.97 465.75,112.3 466.2,112.4C466.65,112.5 466.95,114.68 467.5,114.4C468.05,114.12 468.88,110.53 469.5,110.7C470.12,110.87 470.63,115.28 471.2,115.4C471.77,115.52 472.28,111.28 472.9,111.4C473.52,111.52 474.18,116.55 474.9,116.1C475.62,115.65 476.47,108.7 477.2,108.7C477.93,108.7 478.62,115.87 479.3,116.1C479.98,116.33 480.63,110.22 481.3,110.1C481.97,109.98 482.68,114.68 483.3,115.4C483.92,116.12 484.42,115.73 485,114.4C485.58,113.07 486.18,107.45 486.8,107.4C487.42,107.35 488.1,113.6 488.7,114.1C489.3,114.6 489.73,110.23 490.4,110.4C491.07,110.57 491.98,114.82 492.7,115.1C493.42,115.38 494.08,112.1 494.7,112.1C495.32,112.1 495.73,115.1 496.4,115.1C497.07,115.1 498.03,112.22 498.7,112.1C499.37,111.98 499.78,114.57 500.4,114.4C501.02,114.23 501.78,111.15 502.4,111.1C503.02,111.05 503.53,114.05 504.1,114.1C504.67,114.15 505.18,111.52 505.8,111.4C506.42,111.28 507.07,113.07 507.8,113.4C508.53,113.73 509.53,113.57 510.2,113.4C510.87,113.23 511.18,112.67 511.8,112.4C512.42,112.13 513.28,111.02 513.9,111.8C514.52,112.58 514.9,117.55 515.5,117.1C516.1,116.65 516.82,109.72 517.5,109.1C518.18,108.48 519.03,112.9 519.6,113.4C520.17,113.9 520.45,111.82 520.9,112.1C521.35,112.38 521.73,115.38 522.3,115.1C522.87,114.82 523.7,110.95 524.3,110.4C524.9,109.85 525.23,111.3 525.9,111.8C526.57,112.3 527.57,113.02 528.3,113.4C529.03,113.78 529.53,114.5 530.3,114.1C531.07,113.7 532.23,111.18 532.9,111C533.57,110.82 533.82,111.77 534.3,113C534.78,114.23 535.22,119.35 535.8,118.4C536.38,117.45 537.15,106.5 537.8,107.3C538.45,108.1 539.12,122.82 539.7,123.2C540.28,123.58 540.82,111.53 541.3,109.6C541.78,107.67 542.15,113.38 542.6,111.6C543.05,109.82 543.5,96.97 544,98.9C544.5,100.83 545.02,120.93 545.6,123.2C546.18,125.47 547.02,113.3 547.5,112.5C547.98,111.7 547.92,120.08 548.5,118.4C549.08,116.72 550.2,102.57 551,102.4C551.8,102.23 552.42,114.25 553.3,117.4C554.18,120.55 555.38,126.33 556.3,121.3C557.22,116.27 558.07,84.6 558.8,87.2C559.53,89.8 560.05,133.17 560.7,136.9C561.35,140.63 562.15,113.67 562.7,109.6C563.25,105.53 563.45,113.63 564,112.5C564.55,111.37 565.4,97.6 566,102.8C566.6,108 566.95,147.1 567.6,143.7C568.25,140.3 569.2,84.83 569.9,82.4C570.6,79.97 571.15,125.37 571.8,129.1C572.45,132.83 573.23,106.58 573.8,104.8C574.37,103.02 574.65,119.22 575.2,118.4C575.75,117.58 576.27,98.43 577.1,99.9C577.93,101.37 579.2,128.5 580.2,127.2C581.2,125.9 582.13,91.3 583.1,92.1C584.07,92.9 585.18,131.68 586,132C586.82,132.32 587.28,92.87 588,94C588.72,95.13 589.58,138.95 590.3,138.8C591.02,138.65 591.65,97.48 592.3,93.1C592.95,88.72 593.4,105.53 594.2,112.5C595,119.47 596.28,135.05 597.1,134.9C597.92,134.75 598.53,114.68 599.1,111.6C599.67,108.52 600.05,118.63 600.5,116.4C600.95,114.17 601.33,99.72 601.8,98.2C602.27,96.68 602.72,108.43 603.3,107.3C603.88,106.17 604.58,88.63 605.3,91.4C606.02,94.17 606.85,116.58 607.6,123.9C608.35,131.22 608.8,139.33 609.8,135.3C610.8,131.27 612.63,99.95 613.6,99.7C614.57,99.45 614.88,134.55 615.6,133.8C616.32,133.05 617.22,98.87 617.9,95.2C618.58,91.53 619.02,111.3 619.7,111.8C620.38,112.3 621.25,97.32 622,98.2C622.75,99.08 623.37,112.43 624.2,117.1C625.03,121.77 626.12,130.48 627,126.2C627.88,121.92 628.7,89 629.5,91.4C630.3,93.8 631.03,137.33 631.8,140.6C632.57,143.87 633.33,114.03 634.1,111C634.87,107.97 635.82,122.13 636.4,122.4C636.98,122.67 637.15,112.72 637.6,112.6C638.05,112.48 638.55,123.98 639.1,121.7C639.65,119.42 640.22,98.27 640.9,98.9C641.58,99.53 642.48,125.12 643.2,125.5C643.92,125.88 644.52,101.2 645.2,101.2C645.88,101.2 646.63,126.77 647.3,125.5C647.97,124.23 648.5,93.6 649.2,93.6C649.9,93.6 650.73,122.97 651.5,125.5C652.27,128.03 653.08,111.22 653.8,108.8C654.52,106.38 655.12,108.98 655.8,111C656.48,113.02 657.15,121.52 657.9,120.9C658.65,120.28 659.47,107.68 660.3,107.3C661.13,106.92 662.22,118.23 662.9,118.6C663.58,118.97 663.82,109.23 664.4,109.5C664.98,109.77 665.65,119.82 666.4,120.2C667.15,120.58 668.22,113.95 668.9,111.8C669.58,109.65 669.82,107.6 670.5,107.3C671.18,107 672.58,109.55 673,110"/>
</g>
<line x1="639.3" y1="113.8" x2="639.3" y2="160.7" stroke="#000000" stroke-width="1.6"/>
<text x="430.11 437.9 441.92 449.47 456.49 464.18 470.59" y="32.4" font-size="12.62" fill="#111111" stroke="#111111" stroke-width="0.3" xml:space="preserve">P phase</text>
<text x="520.17 528.28 532.31 539.85 546.87 554.57 560.97" y="31.6" font-size="12.62" fill="#111111" stroke="#111111" stroke-width="0.3" xml:space="preserve">S phase</text>
<text x="370.02 377.73 384.78 388.64 395.42 402.19 408.94 411.9" y="61.8" font-size="11.47" fill="#111111" stroke="#111111" stroke-width="0.3" xml:space="preserve">Borehole</text>
<text x="370 376.23 379.29 386.08 392.33 399.79" y="108.7" font-size="11.47" fill="#111111" stroke="#111111" stroke-width="0.3" xml:space="preserve">Linear</text>
<text x="642.71" y="146" font-size="11.47" fill="#111111" stroke="#111111" stroke-width="0.3" xml:space="preserve">1</text>
<text x="653.06 659.99" y="146" font-size="11.47" fill="#111111" stroke="#111111" stroke-width="0.3" font-style="italic" xml:space="preserve">nε</text>
<rect x="353.6" y="19.4" width="317.8" height="149.9" fill="none" stroke="#262626" stroke-width="0.9"/>
<line x1="349.8" y1="43.1" x2="353.6" y2="43.1" stroke="#262626" stroke-width="0.9"/>
<line x1="349.8" y1="88.5" x2="353.6" y2="88.5" stroke="#262626" stroke-width="0.9"/>
<line x1="349.8" y1="133.9" x2="353.6" y2="133.9" stroke="#262626" stroke-width="0.9"/>
<line x1="351.4" y1="20.4" x2="353.6" y2="20.4" stroke="#262626" stroke-width="0.7"/>
<line x1="351.4" y1="31.75" x2="353.6" y2="31.75" stroke="#262626" stroke-width="0.7"/>
<line x1="351.4" y1="54.45" x2="353.6" y2="54.45" stroke="#262626" stroke-width="0.7"/>
<line x1="351.4" y1="65.8" x2="353.6" y2="65.8" stroke="#262626" stroke-width="0.7"/>
<line x1="351.4" y1="77.15" x2="353.6" y2="77.15" stroke="#262626" stroke-width="0.7"/>
<line x1="351.4" y1="99.85" x2="353.6" y2="99.85" stroke="#262626" stroke-width="0.7"/>
<line x1="351.4" y1="111.2" x2="353.6" y2="111.2" stroke="#262626" stroke-width="0.7"/>
<line x1="351.4" y1="122.55" x2="353.6" y2="122.55" stroke="#262626" stroke-width="0.7"/>
<line x1="351.4" y1="145.25" x2="353.6" y2="145.25" stroke="#262626" stroke-width="0.7"/>
<line x1="351.4" y1="156.6" x2="353.6" y2="156.6" stroke="#262626" stroke-width="0.7"/>
<line x1="351.4" y1="167.95" x2="353.6" y2="167.95" stroke="#262626" stroke-width="0.7"/>
<line x1="446.3" y1="169.3" x2="446.3" y2="173.1" stroke="#262626" stroke-width="0.9"/>
<line x1="546.2" y1="169.3" x2="546.2" y2="173.1" stroke="#262626" stroke-width="0.9"/>
<line x1="646.1" y1="169.3" x2="646.1" y2="173.1" stroke="#262626" stroke-width="0.9"/>
<line x1="356.3" y1="169.3" x2="356.3" y2="171.5" stroke="#262626" stroke-width="0.7"/>
<line x1="366.29" y1="169.3" x2="366.29" y2="171.5" stroke="#262626" stroke-width="0.7"/>
<line x1="376.28" y1="169.3" x2="376.28" y2="171.5" stroke="#262626" stroke-width="0.7"/>
<line x1="386.27" y1="169.3" x2="386.27" y2="171.5" stroke="#262626" stroke-width="0.7"/>
<line x1="396.26" y1="169.3" x2="396.26" y2="171.5" stroke="#262626" stroke-width="0.7"/>
<line x1="406.25" y1="169.3" x2="406.25" y2="171.5" stroke="#262626" stroke-width="0.7"/>
<line x1="416.24" y1="169.3" x2="416.24" y2="171.5" stroke="#262626" stroke-width="0.7"/>
<line x1="426.23" y1="169.3" x2="426.23" y2="171.5" stroke="#262626" stroke-width="0.7"/>
<line x1="436.22" y1="169.3" x2="436.22" y2="171.5" stroke="#262626" stroke-width="0.7"/>
<line x1="456.2" y1="169.3" x2="456.2" y2="171.5" stroke="#262626" stroke-width="0.7"/>
<line x1="466.19" y1="169.3" x2="466.19" y2="171.5" stroke="#262626" stroke-width="0.7"/>
<line x1="476.18" y1="169.3" x2="476.18" y2="171.5" stroke="#262626" stroke-width="0.7"/>
<line x1="486.17" y1="169.3" x2="486.17" y2="171.5" stroke="#262626" stroke-width="0.7"/>
<line x1="496.16" y1="169.3" x2="496.16" y2="171.5" stroke="#262626" stroke-width="0.7"/>
<line x1="506.15" y1="169.3" x2="506.15" y2="171.5" stroke="#262626" stroke-width="0.7"/>
<line x1="516.14" y1="169.3" x2="516.14" y2="171.5" stroke="#262626" stroke-width="0.7"/>
<line x1="526.13" y1="169.3" x2="526.13" y2="171.5" stroke="#262626" stroke-width="0.7"/>
<line x1="536.12" y1="169.3" x2="536.12" y2="171.5" stroke="#262626" stroke-width="0.7"/>
<line x1="556.1" y1="169.3" x2="556.1" y2="171.5" stroke="#262626" stroke-width="0.7"/>
<line x1="566.09" y1="169.3" x2="566.09" y2="171.5" stroke="#262626" stroke-width="0.7"/>
<line x1="576.08" y1="169.3" x2="576.08" y2="171.5" stroke="#262626" stroke-width="0.7"/>
<line x1="586.07" y1="169.3" x2="586.07" y2="171.5" stroke="#262626" stroke-width="0.7"/>
<line x1="596.06" y1="169.3" x2="596.06" y2="171.5" stroke="#262626" stroke-width="0.7"/>
<line x1="606.05" y1="169.3" x2="606.05" y2="171.5" stroke="#262626" stroke-width="0.7"/>
<line x1="616.04" y1="169.3" x2="616.04" y2="171.5" stroke="#262626" stroke-width="0.7"/>
<line x1="626.03" y1="169.3" x2="626.03" y2="171.5" stroke="#262626" stroke-width="0.7"/>
<line x1="636.02" y1="169.3" x2="636.02" y2="171.5" stroke="#262626" stroke-width="0.7"/>
<line x1="656" y1="169.3" x2="656" y2="171.5" stroke="#262626" stroke-width="0.7"/>
<line x1="665.99" y1="169.3" x2="665.99" y2="171.5" stroke="#262626" stroke-width="0.7"/>
<text x="414.9 421.96 428.74 435.82 442.5 446.64 453.56 460.27 464.35 471.28" y="185.8" font-size="11.47" fill="#111111" stroke="#111111" stroke-width="0.3" xml:space="preserve">2023-06-15</text>
<text x="422.15 428.92 435.96 439.51 446.53 453.46 457.15 464.07" y="197.9" font-size="11.47" fill="#111111" stroke="#111111" stroke-width="0.3" xml:space="preserve">02:25:00</text>
<text x="514.8 521.86 528.64 535.72 542.4 546.54 553.46 560.17 564.25 571.18" y="185.8" font-size="11.47" fill="#111111" stroke="#111111" stroke-width="0.3" xml:space="preserve">2023-06-15</text>
<text x="522.05 528.82 535.86 539.57 546.47 553.36 557.05 563.97" y="197.9" font-size="11.47" fill="#111111" stroke="#111111" stroke-width="0.3" xml:space="preserve">02:30:00</text>
<text x="614.7 621.76 628.54 635.62 642.3 646.44 653.36 660.07 664.15 671.08" y="185.8" font-size="11.47" fill="#111111" stroke="#111111" stroke-width="0.3" xml:space="preserve">2023-06-15</text>
<text x="621.95 628.72 635.76 639.47 646.33 653.26 656.95 663.87" y="197.9" font-size="11.47" fill="#111111" stroke="#111111" stroke-width="0.3" xml:space="preserve">02:35:00</text>
<text x="482.76 489.45 492.78 503 509.65 512.89 517.05 524.99 530.78 539.29" y="212.3" font-size="11.47" fill="#111111" stroke="#111111" stroke-width="0.3" xml:space="preserve">Time (UTC)</text>
<text x="380.12 385.74 394.28 398.95 402.58 411.91 417.09 421.51 430.17 433.86 442.01 446.66 451.38 459.23 466.62 475.13 479.87 488.01 494.96 499.14 507.56 511.79 515.47 524 528.63 533.37 541.52 545.09 553 560 568.16 571.56 579.01 591.43 594.77 602.16 606.38 614.67 622.23 630.43 639.02" y="12.6" font-size="13.88" fill="#111111" stroke="#111111" stroke-width="0.3" xml:space="preserve">(b) Strain records of a teleseismic event</text>
<g clip-path="url(#cc)">
<line x1="49.4" y1="428.3" x2="331.9" y2="428.3" stroke="#b0b0b0" stroke-width="1"/>
<line x1="49.4" y1="402.01" x2="331.9" y2="402.01" stroke="#b0b0b0" stroke-width="1"/>
<line x1="49.4" y1="375.71" x2="331.9" y2="375.71" stroke="#b0b0b0" stroke-width="1"/>
<line x1="49.4" y1="349.42" x2="331.9" y2="349.42" stroke="#b0b0b0" stroke-width="1"/>
<line x1="49.4" y1="323.12" x2="331.9" y2="323.12" stroke="#b0b0b0" stroke-width="1"/>
<line x1="49.4" y1="296.83" x2="331.9" y2="296.83" stroke="#b0b0b0" stroke-width="1"/>
<line x1="49.4" y1="270.54" x2="331.9" y2="270.54" stroke="#b0b0b0" stroke-width="1"/>
<line x1="49.4" y1="249.5" x2="49.4" y2="428.3" stroke="#b0b0b0" stroke-width="1"/>
<line x1="105.9" y1="249.5" x2="105.9" y2="428.3" stroke="#b0b0b0" stroke-width="1"/>
<line x1="162.4" y1="249.5" x2="162.4" y2="428.3" stroke="#b0b0b0" stroke-width="1"/>
<line x1="218.9" y1="249.5" x2="218.9" y2="428.3" stroke="#b0b0b0" stroke-width="1"/>
<line x1="275.4" y1="249.5" x2="275.4" y2="428.3" stroke="#b0b0b0" stroke-width="1"/>
<line x1="331.9" y1="249.5" x2="331.9" y2="428.3" stroke="#b0b0b0" stroke-width="1"/>
</g>
<circle cx="53.4" cy="321.8" r="3.65" fill="#1f77b4"/>
<circle cx="54.1" cy="341.6" r="3.65" fill="#1f77b4"/>
<circle cx="63.6" cy="339" r="3.65" fill="#1f77b4"/>
<circle cx="72.5" cy="307.5" r="3.65" fill="#1f77b4"/>
<circle cx="78.5" cy="309.1" r="3.65" fill="#1f77b4"/>
<circle cx="74.6" cy="321" r="3.65" fill="#1f77b4"/>
<circle cx="77.5" cy="323.4" r="3.65" fill="#1f77b4"/>
<circle cx="84.9" cy="318.4" r="3.65" fill="#1f77b4"/>
<circle cx="90.5" cy="324.3" r="3.65" fill="#1f77b4"/>
<circle cx="107.1" cy="320.5" r="3.65" fill="#1f77b4"/>
<circle cx="108.6" cy="320.5" r="3.65" fill="#1f77b4"/>
<circle cx="112.3" cy="336.1" r="3.65" fill="#1f77b4"/>
<circle cx="122.6" cy="321.1" r="3.65" fill="#1f77b4"/>
<circle cx="123" cy="348.9" r="3.65" fill="#1f77b4"/>
<circle cx="128.6" cy="315.1" r="3.65" fill="#1f77b4"/>
<circle cx="135.4" cy="323.1" r="3.65" fill="#1f77b4"/>
<circle cx="143.8" cy="317" r="3.65" fill="#1f77b4"/>
<circle cx="150.1" cy="332.6" r="3.65" fill="#1f77b4"/>
<circle cx="156.3" cy="332.9" r="3.65" fill="#1f77b4"/>
<circle cx="157.6" cy="333.9" r="3.65" fill="#1f77b4"/>
<circle cx="159.8" cy="307.5" r="3.65" fill="#1f77b4"/>
<circle cx="171.3" cy="271.9" r="3.65" fill="#1f77b4"/>
<circle cx="175.8" cy="316.2" r="3.65" fill="#1f77b4"/>
<circle cx="176.3" cy="321.6" r="3.65" fill="#1f77b4"/>
<circle cx="178.4" cy="299.7" r="3.65" fill="#1f77b4"/>
<circle cx="196.8" cy="284.2" r="3.65" fill="#1f77b4"/>
<circle cx="208.2" cy="297.9" r="3.65" fill="#1f77b4"/>
<circle cx="223.7" cy="342.6" r="3.65" fill="#1f77b4"/>
<circle cx="250.5" cy="307.7" r="3.65" fill="#1f77b4"/>
<circle cx="262.8" cy="299.4" r="3.65" fill="#1f77b4"/>
<circle cx="266.3" cy="305.4" r="3.65" fill="#1f77b4"/>
<circle cx="289.3" cy="325.8" r="3.65" fill="#1f77b4"/>
<rect x="49.4" y="249.5" width="282.5" height="178.8" fill="none" stroke="#262626" stroke-width="0.9"/>
<line x1="45.6" y1="428.3" x2="49.4" y2="428.3" stroke="#262626" stroke-width="0.9"/>
<line x1="45.6" y1="402.01" x2="49.4" y2="402.01" stroke="#262626" stroke-width="0.9"/>
<line x1="45.6" y1="375.71" x2="49.4" y2="375.71" stroke="#262626" stroke-width="0.9"/>
<line x1="45.6" y1="349.42" x2="49.4" y2="349.42" stroke="#262626" stroke-width="0.9"/>
<line x1="45.6" y1="323.12" x2="49.4" y2="323.12" stroke="#262626" stroke-width="0.9"/>
<line x1="45.6" y1="296.83" x2="49.4" y2="296.83" stroke="#262626" stroke-width="0.9"/>
<line x1="45.6" y1="270.54" x2="49.4" y2="270.54" stroke="#262626" stroke-width="0.9"/>
<line x1="49.4" y1="428.3" x2="49.4" y2="432.1" stroke="#262626" stroke-width="0.9"/>
<line x1="105.9" y1="428.3" x2="105.9" y2="432.1" stroke="#262626" stroke-width="0.9"/>
<line x1="162.4" y1="428.3" x2="162.4" y2="432.1" stroke="#262626" stroke-width="0.9"/>
<line x1="218.9" y1="428.3" x2="218.9" y2="432.1" stroke="#262626" stroke-width="0.9"/>
<line x1="275.4" y1="428.3" x2="275.4" y2="432.1" stroke="#262626" stroke-width="0.9"/>
<line x1="331.9" y1="428.3" x2="331.9" y2="432.1" stroke="#262626" stroke-width="0.9"/>
<text x="37.56 44.34 47.9 54.86" y="444" font-size="11.47" fill="#111111" stroke="#111111" stroke-width="0.3" xml:space="preserve">0.90</text>
<text x="94.25 101.03 104.59 111.4" y="444" font-size="11.47" fill="#111111" stroke="#111111" stroke-width="0.3" xml:space="preserve">0.92</text>
<text x="150.51 157.29 160.85 167.8" y="444" font-size="11.47" fill="#111111" stroke="#111111" stroke-width="0.3" xml:space="preserve">0.94</text>
<text x="207.04 213.83 217.39 224.34" y="444" font-size="11.47" fill="#111111" stroke="#111111" stroke-width="0.3" xml:space="preserve">0.96</text>
<text x="263.57 270.35 273.91 280.87" y="444" font-size="11.47" fill="#111111" stroke="#111111" stroke-width="0.3" xml:space="preserve">0.98</text>
<text x="319.76 326.61 330.2 337.12" y="444" font-size="11.47" fill="#111111" stroke="#111111" stroke-width="0.3" xml:space="preserve">1.00</text>
<text x="18.07 24.86 28.41 35.37" y="432.3" font-size="11.47" fill="#111111" stroke="#111111" stroke-width="0.3" xml:space="preserve">0.50</text>
<text x="18.3 25.08 28.66 35.56" y="406.01" font-size="11.47" fill="#111111" stroke="#111111" stroke-width="0.3" xml:space="preserve">0.75</text>
<text x="18.02 24.86 28.45 35.37" y="379.71" font-size="11.47" fill="#111111" stroke="#111111" stroke-width="0.3" xml:space="preserve">1.00</text>
<text x="18.24 25.08 28.54 35.56" y="353.42" font-size="11.47" fill="#111111" stroke="#111111" stroke-width="0.3" xml:space="preserve">1.25</text>
<text x="18.02 24.86 28.41 35.37" y="327.12" font-size="11.47" fill="#111111" stroke="#111111" stroke-width="0.3" xml:space="preserve">1.50</text>
<text x="18.24 25.08 28.66 35.56" y="300.83" font-size="11.47" fill="#111111" stroke="#111111" stroke-width="0.3" xml:space="preserve">1.75</text>
<text x="17.93 24.86 28.45 35.37" y="274.54" font-size="11.47" fill="#111111" stroke="#111111" stroke-width="0.3" xml:space="preserve">2.00</text>
<text x="112.83 121.36 125.19 131.75 137.41 143.17 146.09 154.23 161.27 165.5 169.36 176.11 178.63 186.07 190.07 192.98 199.78 206.53 209.44 217.58 224.27 231.24 235.07 238.68 241.46 247.68 250.64 257.43 264.56" y="458.9" font-size="11.47" fill="#111111" stroke="#111111" stroke-width="0.3" xml:space="preserve">Cross Correlation Coefficient</text>
<g clip-path="url(#cd)">
<line x1="388.5" y1="428.3" x2="671" y2="428.3" stroke="#b0b0b0" stroke-width="1"/>
<line x1="388.5" y1="402.01" x2="671" y2="402.01" stroke="#b0b0b0" stroke-width="1"/>
<line x1="388.5" y1="375.71" x2="671" y2="375.71" stroke="#b0b0b0" stroke-width="1"/>
<line x1="388.5" y1="349.42" x2="671" y2="349.42" stroke="#b0b0b0" stroke-width="1"/>
<line x1="388.5" y1="323.12" x2="671" y2="323.12" stroke="#b0b0b0" stroke-width="1"/>
<line x1="388.5" y1="296.83" x2="671" y2="296.83" stroke="#b0b0b0" stroke-width="1"/>
<line x1="388.5" y1="270.54" x2="671" y2="270.54" stroke="#b0b0b0" stroke-width="1"/>
<line x1="388.5" y1="249.5" x2="388.5" y2="428.3" stroke="#b0b0b0" stroke-width="1"/>
<line x1="445" y1="249.5" x2="445" y2="428.3" stroke="#b0b0b0" stroke-width="1"/>
<line x1="501.5" y1="249.5" x2="501.5" y2="428.3" stroke="#b0b0b0" stroke-width="1"/>
<line x1="558" y1="249.5" x2="558" y2="428.3" stroke="#b0b0b0" stroke-width="1"/>
<line x1="614.5" y1="249.5" x2="614.5" y2="428.3" stroke="#b0b0b0" stroke-width="1"/>
<line x1="671" y1="249.5" x2="671" y2="428.3" stroke="#b0b0b0" stroke-width="1"/>
</g>
<circle cx="494.7" cy="391.3" r="3.65" fill="#1f77b4"/>
<circle cx="502.7" cy="391.8" r="3.65" fill="#1f77b4"/>
<circle cx="509.6" cy="384" r="3.65" fill="#1f77b4"/>
<circle cx="513.5" cy="388.2" r="3.65" fill="#1f77b4"/>
<circle cx="521.8" cy="389.2" r="3.65" fill="#1f77b4"/>
<circle cx="519.7" cy="397.4" r="3.65" fill="#1f77b4"/>
<circle cx="534.3" cy="394.8" r="3.65" fill="#1f77b4"/>
<circle cx="537.8" cy="374.5" r="3.65" fill="#1f77b4"/>
<circle cx="539.4" cy="375.8" r="3.65" fill="#1f77b4"/>
<circle cx="544.8" cy="393.1" r="3.65" fill="#1f77b4"/>
<circle cx="560.8" cy="372.5" r="3.65" fill="#1f77b4"/>
<polygon points="390.2,401.6 398.2,401.6 394.2,409.6" fill="#ff7f0e"/>
<polygon points="406.8,268.6 414.8,268.6 410.8,276.6" fill="#ff7f0e"/>
<polygon points="449.5,390.4 457.5,390.4 453.5,398.4" fill="#ff7f0e"/>
<polygon points="486.2,380 494.2,380 490.2,388" fill="#ff7f0e"/>
<polygon points="486.2,390 494.2,390 490.2,398" fill="#ff7f0e"/>
<polygon points="511.5,323.9 519.5,323.9 515.5,331.9" fill="#ff7f0e"/>
<rect x="388.5" y="249.5" width="282.5" height="178.8" fill="none" stroke="#262626" stroke-width="0.9"/>
<line x1="384.7" y1="428.3" x2="388.5" y2="428.3" stroke="#262626" stroke-width="0.9"/>
<line x1="384.7" y1="402.01" x2="388.5" y2="402.01" stroke="#262626" stroke-width="0.9"/>
<line x1="384.7" y1="375.71" x2="388.5" y2="375.71" stroke="#262626" stroke-width="0.9"/>
<line x1="384.7" y1="349.42" x2="388.5" y2="349.42" stroke="#262626" stroke-width="0.9"/>
<line x1="384.7" y1="323.12" x2="388.5" y2="323.12" stroke="#262626" stroke-width="0.9"/>
<line x1="384.7" y1="296.83" x2="388.5" y2="296.83" stroke="#262626" stroke-width="0.9"/>
<line x1="384.7" y1="270.54" x2="388.5" y2="270.54" stroke="#262626" stroke-width="0.9"/>
<line x1="388.5" y1="428.3" x2="388.5" y2="432.1" stroke="#262626" stroke-width="0.9"/>
<line x1="445" y1="428.3" x2="445" y2="432.1" stroke="#262626" stroke-width="0.9"/>
<line x1="501.5" y1="428.3" x2="501.5" y2="432.1" stroke="#262626" stroke-width="0.9"/>
<line x1="558" y1="428.3" x2="558" y2="432.1" stroke="#262626" stroke-width="0.9"/>
<line x1="614.5" y1="428.3" x2="614.5" y2="432.1" stroke="#262626" stroke-width="0.9"/>
<line x1="671" y1="428.3" x2="671" y2="432.1" stroke="#262626" stroke-width="0.9"/>
<text x="376.66 383.44 387 393.96" y="444" font-size="11.47" fill="#111111" stroke="#111111" stroke-width="0.3" xml:space="preserve">0.90</text>
<text x="433.35 440.13 443.69 450.5" y="444" font-size="11.47" fill="#111111" stroke="#111111" stroke-width="0.3" xml:space="preserve">0.92</text>
<text x="489.61 496.39 499.95 506.9" y="444" font-size="11.47" fill="#111111" stroke="#111111" stroke-width="0.3" xml:space="preserve">0.94</text>
<text x="546.14 552.93 556.49 563.44" y="444" font-size="11.47" fill="#111111" stroke="#111111" stroke-width="0.3" xml:space="preserve">0.96</text>
<text x="602.67 609.45 613.01 619.97" y="444" font-size="11.47" fill="#111111" stroke="#111111" stroke-width="0.3" xml:space="preserve">0.98</text>
<text x="658.86 665.71 669.3 676.22" y="444" font-size="11.47" fill="#111111" stroke="#111111" stroke-width="0.3" xml:space="preserve">1.00</text>
<text x="451.93 460.46 464.29 470.85 476.51 482.27 485.19 493.33 500.37 504.6 508.46 515.21 517.73 525.17 529.17 532.08 538.88 545.63 548.54 556.68 563.37 570.34 574.17 577.78 580.56 586.78 589.74 596.53 603.66" y="458.9" font-size="11.47" fill="#111111" stroke="#111111" stroke-width="0.3" xml:space="preserve">Cross Correlation Coefficient</text>
<text x="89.77 94.98 102.81 107.49 111.36 121.14 133.66 141.88 145.53 149.5 154.31 162.59 170.89 178.92 183.57 188 196.98 201.8 205.33 213.35 217.65 221.34 229.49 233.05 241.58 245.98 254.23 261.91 270.33 277.33 285.24" y="243" font-size="13.88" fill="#111111" stroke="#111111" stroke-width="0.3" xml:space="preserve">(c) Amplitude ratio in P phases</text>
<text x="427.8 433.26 441.96 446.64 450.51 460.29 472.81 481.03 484.68 488.65 493.46 501.73 510.04 518.07 522.72 527.15 536.13 540.95 544.48 552.5 556.8 560.49 568.64 572.26 581.14 585.55 593.8 601.47 609.89 616.89 624.81" y="243" font-size="13.88" fill="#111111" stroke="#111111" stroke-width="0.3" xml:space="preserve">(d) Amplitude ratio in S phases</text>
<g transform="translate(11.0,368.7) rotate(-90)">
<text x="-0.45" y="0" font-size="11.47" fill="#111111" stroke="#111111" stroke-width="0.3">r</text>
<text x="3.21" y="0" font-size="11.47" fill="#111111" stroke="#111111" stroke-width="0.3">a</text>
<text x="10.66" y="0" font-size="11.47" fill="#111111" stroke="#111111" stroke-width="0.3">t</text>
<text x="14.65" y="0" font-size="11.47" fill="#111111" stroke="#111111" stroke-width="0.3">i</text>
<text x="17.57" y="0" font-size="11.47" fill="#111111" stroke="#111111" stroke-width="0.3">o</text>
<text x="27.46" y="0" font-size="11.47" fill="#111111" stroke="#111111" stroke-width="0.3">(</text>
<text x="31.62" y="0" font-size="11.47" fill="#111111" stroke="#111111" stroke-width="0.3" font-style="italic">ε</text>
<text x="36.99" y="2.2" font-size="8.03" fill="#111111" stroke="#111111" stroke-width="0.3" font-style="italic">B</text>
<text x="43.16" y="0" font-size="11.47" fill="#111111" stroke="#111111" stroke-width="0.3">/</text>
<text x="47.02" y="0" font-size="11.47" fill="#111111" stroke="#111111" stroke-width="0.3" font-style="italic">ε</text>
<text x="52.32" y="2.2" font-size="8.03" fill="#111111" stroke="#111111" stroke-width="0.3" font-style="italic">L</text>
<text x="57.36" y="0" font-size="11.47" fill="#111111" stroke="#111111" stroke-width="0.3">)</text>
</g>
<rect x="565.4" y="255.2" width="99.9" height="35.0" rx="2.5" ry="2.5" fill="#ffffff" fill-opacity="0.8" stroke="#cccccc" stroke-width="0.9"/>
<circle cx="580.2" cy="264.0" r="3.65" fill="#1f77b4"/>
<polygon points="576.2,275.9 584.2,275.9 580.2,283.9" fill="#ff7f0e"/>
<text x="599.51 602.44 608.94 614.66 621.83 624.67 628.11 635.23" y="268" font-size="11.47" fill="#111111" stroke="#111111" stroke-width="0.3" xml:space="preserve">local-EQ</text>
<text x="600.52 604.45 611.2 614.16 620.72 626.52 633.27 636.09 642.27 652.55 655.33" y="283.8" font-size="11.47" fill="#111111" stroke="#111111" stroke-width="0.3" xml:space="preserve">teleseismic</text></svg>
</body></html>
